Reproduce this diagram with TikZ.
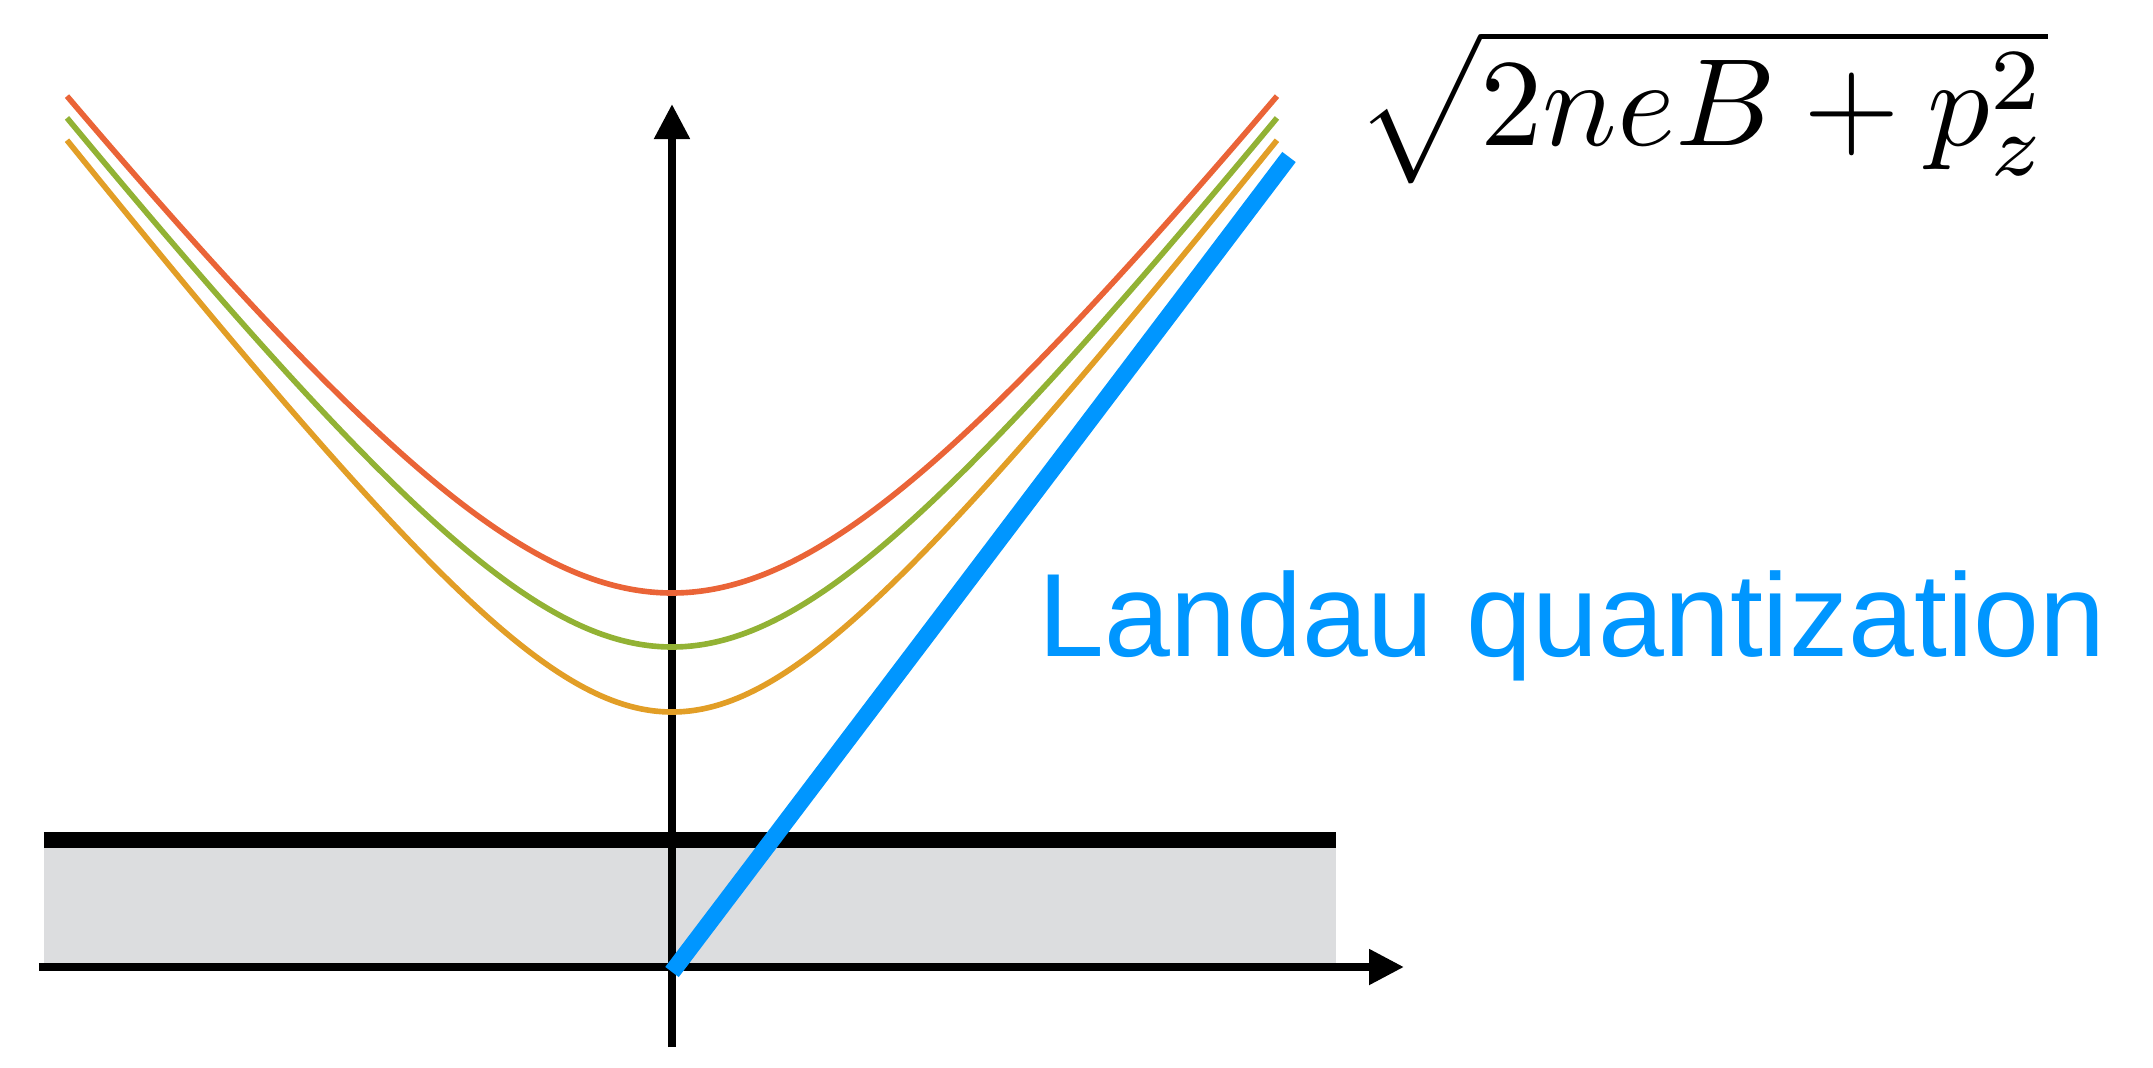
\documentclass[tikz,border=0pt]{standalone}
\usepackage{fontspec}
\usepackage{tikz}
\usetikzlibrary{arrows.meta}
\newfontfamily\labelfont{Liberation Sans}
\definecolor{curvered}{RGB}{234,100,55}
\definecolor{curvegreen}{RGB}{146,178,52}
\definecolor{curveorange}{RGB}{226,158,38}
\definecolor{landaublue}{RGB}{0,150,255}
\definecolor{bandgray}{RGB}{220,221,223}

\begin{document}
\begin{tikzpicture}[
  axis/.style={line width=2.3pt, -{Triangle[length=3.5mm,width=3.4mm]}},
  level/.style={line width=1.6pt},
]
\useasboundingbox (-6.72,-1.00) rectangle (14.81,9.67);
% shaded band and thick bar on top of it
\fill[bandgray] (-6.28,0) rectangle (6.64,1.19);
\draw[line width=4.6pt] (-6.28,1.27) -- (6.64,1.27);
% axes
\coordinate (origin) at (0,0);
\draw[axis] (-6.33,0) -- (7.32,0);
\draw[axis] (0,-0.80) -- (0,8.63);
% energy levels
\foreach \m/\c in {3.74/curvered,3.20/curvegreen,2.55/curveorange}{
  \draw[level,\c] plot[domain=-6.05:6.05,samples=121,smooth] (\x,{sqrt(\m*\m+(1.3*\x)^2)});
}
% light cone line
\coordinate (conetop) at (6.17,8.10);
\draw[line width=4.8pt, landaublue] ([yshift=-0.5mm]origin) -- (conetop);
% labels
\node[anchor=base, inner sep=0, scale=3.54] (formula) at (10.30,8.22) {$\sqrt{2neB+p_z^2}$};
\node[anchor=base west, inner sep=0, landaublue, font=\labelfont\fontsize{33.7}{40}\selectfont] (landau) at (3.66,3.11) {Landau quantization};
\end{tikzpicture}
\end{document}
